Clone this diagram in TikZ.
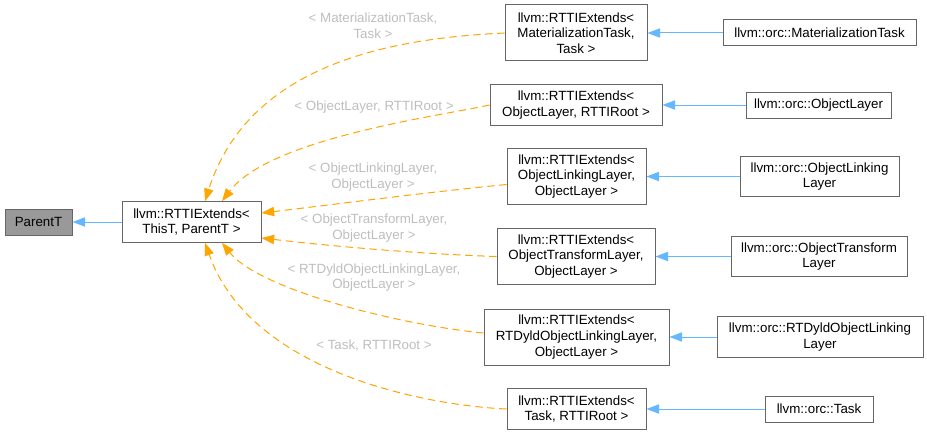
\documentclass[tikz,border=0pt]{standalone}
\usepackage{fontspec}
\setmainfont{Liberation Sans}
\usepackage{tikz}
\usetikzlibrary{positioning, arrows.meta, calc}
\definecolor{boxgray}{RGB}{102,102,102}
\definecolor{basefill}{RGB}{153,153,153}
\definecolor{inhblue}{RGB}{99,184,255}
\definecolor{tmplorange}{RGB}{255,165,0}
\definecolor{labelgray}{RGB}{190,190,190}

\begin{document}
\begin{tikzpicture}[
  x=0.75pt, y=-0.75pt,
  font=\fontsize{10}{11.8}\selectfont,
  box/.style={rectangle, draw=boxgray, line width=0.75pt, fill=white,
              inner sep=0pt, align=center, minimum height=19.5pt},
  two/.style={minimum height=30.5pt},
  three/.style={minimum height=42pt},
  inh/.style={-{Triangle[length=9.5pt, width=7pt]}, draw=inhblue, line width=0.75pt},
  tmpl/.style={-{Triangle[length=9.5pt, width=7pt]}, draw=tmplorange, line width=0.75pt,
               dash pattern=on 5.5pt off 3.5pt},
  lbl/.style={text=labelgray, align=center}
]
  \useasboundingbox (0,0) rectangle (927,435);

  \node[box, fill=basefill, minimum width=50.25pt] (parent) at (38.5,222) {ParentT};
  \node[box, two, minimum width=104.25pt] (root) at (191.5,222) {llvm::RTTIExtends<\\ThisT, ParentT >};

  \node[box, three, minimum width=106.5pt]  (mattask)     at (576,33)    {llvm::RTTIExtends<\\MaterializationTask,\\Task >};
  \node[box, two, minimum width=129pt]      (objlayer)    at (576,105)   {llvm::RTTIExtends<\\ObjectLayer, RTTIRoot >};
  \node[box, three, minimum width=104.25pt] (linklayer)   at (576.5,176.5) {llvm::RTTIExtends<\\ObjectLinkingLayer,\\ObjectLayer >};
  \node[box, three, minimum width=118.5pt]  (xformlayer)  at (576,256.5) {llvm::RTTIExtends<\\ObjectTransformLayer,\\ObjectLayer >};
  \node[box, three, minimum width=138.75pt] (rtdyldlayer) at (576.5,337) {llvm::RTTIExtends<\\RTDyldObjectLinkingLayer,\\ObjectLayer >};
  \node[box, two, minimum width=104.25pt]   (task)        at (576.5,409) {llvm::RTTIExtends<\\Task, RTTIRoot >};

  \node[box, minimum width=144.75pt]     (orcmattask)   at (819.5,33)    {llvm::orc::MaterializationTask};
  \node[box, minimum width=108.75pt]     (orcobjlayer)  at (818.5,105)   {llvm::orc::ObjectLayer};
  \node[box, two, minimum width=119.25pt] (orclinklayer) at (819.5,176.5) {llvm::orc::ObjectLinking\\Layer};
  \node[box, two, minimum width=132pt]    (orcxformlayer) at (819,256.5) {llvm::orc::ObjectTransform\\Layer};
  \node[box, two, minimum width=154.5pt]  (orcrtdyld)    at (820,337)     {llvm::orc::RTDyldObjectLinking\\Layer};
  \node[box, minimum width=81pt]          (orctask)      at (819,409)     {llvm::orc::Task};

  \node[lbl] (lmattask)  at (373,25.5) {< MaterializationTask,\\Task >};
  \node[lbl] (lobjlayer) at (374,107)  {< ObjectLayer, RTTIRoot >};
  \node[lbl] (llink)     at (373,177)  {< ObjectLinkingLayer,\\ObjectLayer >};
  \node[lbl] (lxform)    at (374,228)  {< ObjectTransformLayer,\\ObjectLayer >};
  \node[lbl] (lrtdyld)   at (374,277.5) {< RTDyldObjectLinkingLayer,\\ObjectLayer >};
  \node[lbl] (ltask)     at (374,346)  {< Task, RTTIRoot >};

  \draw[inh] (root) -- (parent);
  \draw[inh] (orcmattask) -- (mattask);
  \draw[inh] (orcobjlayer) -- (objlayer);
  \draw[inh] (orclinklayer) -- (linklayer);
  \draw[inh] (orcxformlayer) -- (xformlayer);
  \draw[inh] (orcrtdyld) -- (rtdyldlayer);
  \draw[inh] (orctask) -- (task);

  \draw[tmpl] (mattask.west) .. controls (400,38) and (250,60) .. ($(root.north)+(13.5,0)$);
  \draw[tmpl] (objlayer.west) .. controls (440,116) and (270,138) .. ($(root.north)+(30.5,0)$);
  \draw[tmpl] ($(linklayer.west)+(0,8)$) .. controls (420,193) and (330,205) .. ($(root.east)+(0,-9)$);
  \draw[tmpl] (xformlayer.west) .. controls (420,254) and (330,246) .. ($(root.east)+(0,16)$);
  \draw[tmpl] ($(rtdyldlayer.west)+(0,-4)$) .. controls (400,325) and (260,290) .. ($(root.south)+(30.5,0)$);
  \draw[tmpl] (task.west) .. controls (420,405) and (250,370) .. ($(root.south)+(13.5,0)$);
\end{tikzpicture}
\end{document}
